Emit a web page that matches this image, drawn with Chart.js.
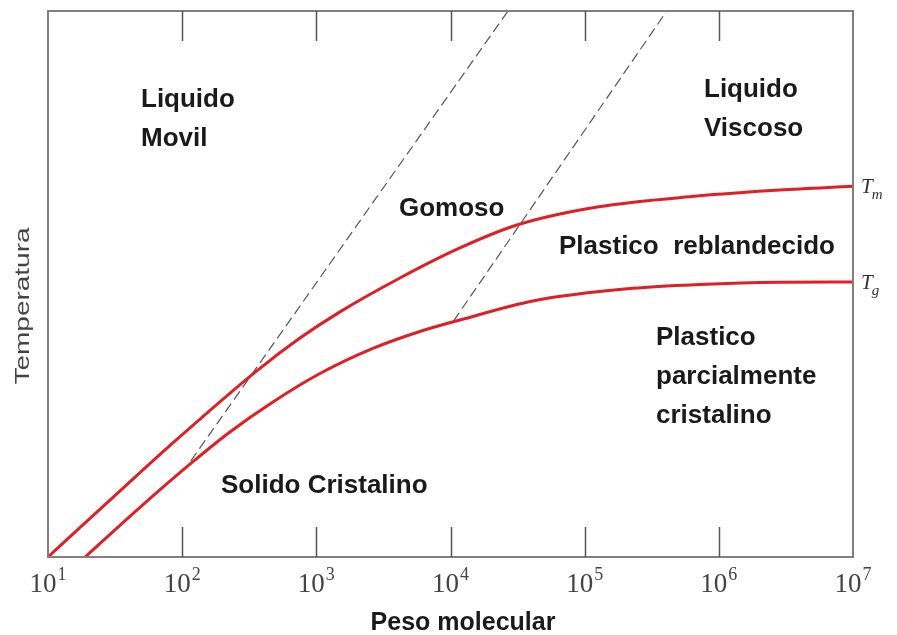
<!DOCTYPE html>
<html>
<head>
<meta charset="utf-8">
<script src="https://cdn.jsdelivr.net/npm/chart.js@4"></script>
<style>
    body { margin: 0; background: #fff; }
    #wrap { width: 897px; height: 635px; position: relative; }
</style>
</head>
<body>
<div id="wrap"><canvas id="phaseChart"></canvas></div>
<script>
// Diagrama temperatura - peso molecular (Tm / Tg)
const tmMass = [10, 27.5, 85.3, 360, 755, 1500, 4200, 11750, 31260, 124000, 690000, 2850000, 1e7];
const tmTemp = [0, 9.9, 20.9, 34.1, 40.1, 44.9, 51.1, 56.6, 60.8, 64.1, 66.1, 67.2, 67.9];

const tgMass = [18.9, 48.5, 114.3, 227, 475, 1064, 2640, 5915, 11750, 41100, 228600, 721000, 2850000, 1e7];
const tgTemp = [0, 9.1, 17.0, 22.9, 28.4, 33.6, 38.2, 41.3, 43.4, 46.9, 49.2, 49.9, 50.3, 50.35];

// limites punteados (inicio sobre Tg, final en el borde superior)
const dash1Mass = [116, 26800];
const dash1Temp = [17.6, 100];
const dash2Mass = [10520, 409000];
const dash2Temp = [43.2, 100];

const tickMass = [10, 100, 1000, 10000, 100000, 1000000, 10000000];
const tickExp = ['1', '2', '3', '4', '5', '6', '7'];

const toPoints = (xs, ys) => xs.map((x, i) => ({ x: x, y: ys[i] }));

const regionLabels = [
    { lines: ['Liquido', 'Movil'], x: 141, y: 107 },
    { lines: ['Liquido', 'Viscoso'], x: 704, y: 97 },
    { lines: ['Gomoso'], x: 399, y: 216 },
    { lines: ['Plastico  reblandecido'], x: 559, y: 254 },
    { lines: ['Plastico', 'parcialmente', 'cristalino'], x: 656, y: 345 },
    { lines: ['Solido Cristalino'], x: 221, y: 493 }
];

const decorPlugin = {
    id: 'decor',
    afterDraw(chart) {
        const ctx = chart.ctx;
        const a = chart.chartArea;
        const xs = chart.scales.x;
        const ys = chart.scales.y;
        ctx.save();

        // marco
        ctx.strokeStyle = '#808080';
        ctx.lineWidth = 2;
        ctx.strokeRect(a.left, a.top, a.right - a.left, a.bottom - a.top);

        // marcas hacia dentro, abajo y arriba
        ctx.strokeStyle = '#555';
        ctx.lineWidth = 1.5;
        tickMass.forEach(v => {
            const px = Math.round(xs.getPixelForValue(v)) + 0.5;
            if (px < a.left + 2 || px > a.right - 2) return;
            ctx.beginPath();
            ctx.moveTo(px, a.bottom);
            ctx.lineTo(px, a.bottom - 30);
            ctx.moveTo(px, a.top);
            ctx.lineTo(px, a.top + 30);
            ctx.stroke();
        });

        // etiquetas 10^n
        ctx.fillStyle = '#444';
        ctx.textBaseline = 'alphabetic';
        tickMass.forEach((v, i) => {
            const px = xs.getPixelForValue(v);
            ctx.font = '27px "Liberation Serif", serif';
            const wBase = ctx.measureText('10').width;
            ctx.font = '18px "Liberation Serif", serif';
            const wExp = ctx.measureText(tickExp[i]).width;
            const left = px - (wBase + wExp + 1) / 2;
            ctx.font = '27px "Liberation Serif", serif';
            ctx.textAlign = 'left';
            ctx.fillText('10', left, a.bottom + 35);
            ctx.font = '18px "Liberation Serif", serif';
            ctx.fillText(tickExp[i], left + wBase + 1, a.bottom + 23);
        });

        // Tm y Tg al final de las curvas
        const drawT = (sub, val) => {
            const py = ys.getPixelForValue(val);
            ctx.fillStyle = '#333';
            ctx.font = 'italic 21px "Liberation Serif", serif';
            ctx.textAlign = 'left';
            ctx.fillText('T', a.right + 8, py + 7);
            const w = ctx.measureText('T').width;
            ctx.font = 'italic 15px "Liberation Serif", serif';
            ctx.fillText(sub, a.right + 7 + w, py + 13);
        };
        drawT('m', tmTemp[tmTemp.length - 1]);
        drawT('g', tgTemp[tgTemp.length - 1]);

        // regiones
        ctx.fillStyle = '#1a1a1a';
        ctx.font = 'bold 26px "Liberation Sans", Arial, sans-serif';
        ctx.textAlign = 'left';
        regionLabels.forEach(r => {
            r.lines.forEach((t, k) => ctx.fillText(t, r.x, r.y + k * 39));
        });

        // titulos de ejes
        ctx.textAlign = 'center';
        ctx.font = 'bold 25px "Liberation Sans", Arial, sans-serif';
        ctx.fillText('Peso molecular', 463, 630);

        ctx.save();
        ctx.translate(29, 306);
        ctx.rotate(-Math.PI / 2);
        ctx.scale(1.4, 1);
        ctx.fillStyle = '#444';
        ctx.font = '20px "Liberation Sans", Arial, sans-serif';
        ctx.fillText('Temperatura', 0, 0);
        ctx.restore();

        ctx.restore();
    }
};

const redLine = {
    borderColor: '#de1f26',
    borderWidth: 3,
    pointRadius: 0,
    showLine: true,
    fill: false,
    cubicInterpolationMode: 'monotone'
};
const dashLine = {
    borderColor: '#555',
    borderWidth: 1.2,
    borderDash: [10, 5],
    pointRadius: 0,
    showLine: true,
    fill: false
};

new Chart(document.getElementById('phaseChart').getContext('2d'), {
    type: 'scatter',
    data: {
        datasets: [
            Object.assign({ label: 'Tm', data: toPoints(tmMass, tmTemp) }, redLine),
            Object.assign({ label: 'Tg', data: toPoints(tgMass, tgTemp) }, redLine),
            Object.assign({ label: 'lim1', data: toPoints(dash1Mass, dash1Temp) }, dashLine),
            Object.assign({ label: 'lim2', data: toPoints(dash2Mass, dash2Temp) }, dashLine)
        ]
    },
    options: {
        responsive: true,
        maintainAspectRatio: false,
        animation: false,
        layout: { padding: { left: 48, right: 44, top: 11, bottom: 78 } },
        plugins: {
            legend: { display: false },
            tooltip: { enabled: false }
        },
        scales: {
            x: { type: 'logarithmic', min: 10, max: 1e7, display: false },
            y: { type: 'linear', min: 0, max: 100, display: false }
        }
    },
    plugins: [decorPlugin]
});
</script>
</body>
</html>
